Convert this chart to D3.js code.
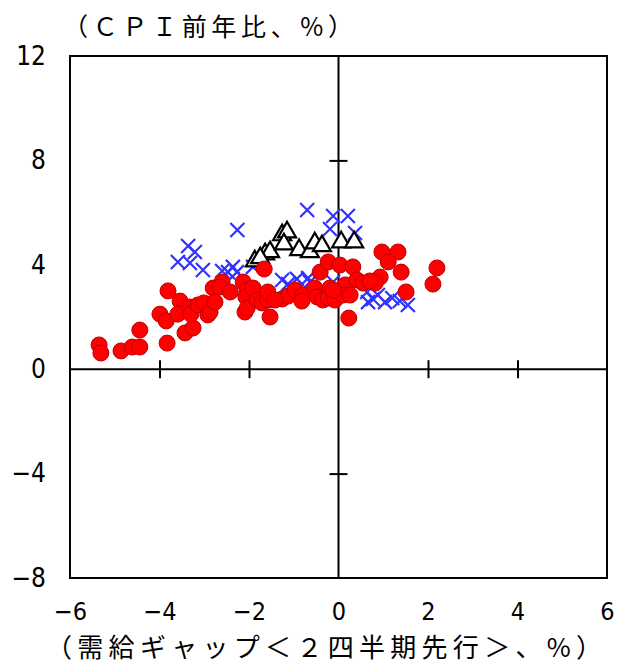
<!DOCTYPE html>
<html>
<head>
<meta charset="utf-8">
<script src="https://cdn.jsdelivr.net/npm/d3@7"></script>
<style>
  body { margin: 0; background: #fff; }
  svg { display: block; }
</style>
</head>
<body>
<svg id="canvas" width="629" height="663"></svg>
<script>
// data (x: output gap 2 quarters ahead, y: CPI y/y)
var red_x = [-5.35,-5.31,-4.86,-4.61,-4.44,-4.44,-3.83,-3.81,-3.99,-3.85,-3.54,-3.59,-3.43,-3.25,-3.32,-3.30,-3.14,-3.01,-2.92,-2.87,
             -2.80,-2.76,-2.60,-2.65,-2.42,-2.13,-2.04,-2.07,-2.09,-2.04,-1.91,-1.82,-1.71,-1.58,-1.58,-1.66,-1.53,-1.26,-1.13,-1.42,
             -0.97,-0.79,-0.82,-0.53,-0.48,-0.41,-0.35,-0.23,-0.23,-0.19,-0.08,0.03,0.15,0.10,0.26,0.32,0.41,0.55,0.23,-0.12,
             0.97,1.33,1.11,1.40,2.20,2.11,1.51,0.93,0.82,0.70];
var red_y = [0.93,0.62,0.70,0.85,0.85,1.50,1.00,3.00,2.11,1.85,2.61,2.11,1.39,1.58,2.38,2.11,2.46,2.54,2.08,2.19,
             3.11,2.57,3.34,3.15,2.96,3.34,3.03,2.77,2.19,2.34,3.11,2.65,2.54,2.65,2.96,3.84,2.00,2.69,2.80,2.65,
             3.03,2.84,2.61,3.11,2.77,3.72,2.65,4.11,2.73,3.11,2.65,3.99,3.23,2.84,2.84,3.92,3.42,3.30,1.96,3.03,
             4.49,4.49,4.11,3.72,3.88,3.26,2.96,3.53,3.30,3.38];

var blue_x = [-2.26,-3.36,-3.21,-3.59,-3.32,-3.03,-2.60,-2.36,-2.27,-2.47,-1.91,-1.26,-1.13,-0.93,-0.68,-0.64,-0.12,
              -0.70,-0.12,0.21,-0.19,0.37,0.64,0.66,0.77,0.88,1.04,1.20,1.37,1.55];
var blue_y = [5.33,4.72,4.49,4.11,4.07,3.80,3.76,3.92,3.72,3.72,3.92,3.42,3.26,3.46,3.49,3.34,3.34,
              6.10,5.87,5.87,5.37,5.22,2.96,2.57,2.69,2.84,2.57,2.73,2.61,2.46];

var tri_x = [-1.87,-1.64,-1.53,-1.75,-1.26,-1.15,-1.22,-0.88,-0.64,-0.53,-0.37,0.06,0.35];
var tri_y = [4.14,4.41,4.49,4.26,5.14,5.25,4.79,4.57,4.49,4.83,4.72,4.87,4.87];

var x_ticks = [-6,-4,-2,0,2,4,6];
var y_ticks = [-8,-4,0,4,8,12];
var y_title = "（ＣＰＩ前年比、%）";
var x_title = "（需給ギャップ＜２四半期先行＞、%）";

// ************************************************************************************** //
// layout

var plot_l = 70, plot_r = 607, plot_t = 56, plot_b = 578;
var svg = d3.select('#canvas');

var xScale = d3.scaleLinear().domain([-6, 6]).range([plot_l, plot_r]);
var yScale = d3.scaleLinear().domain([-8, 12]).range([plot_b, plot_t]);
var numFont = '"Liberation Sans Narrow", "DejaVu Sans Condensed", sans-serif';
var jpFont = '"Noto Sans CJK JP", sans-serif';

// tick labels
var yLab = svg.append('g').attr('transform', 'translate(' + plot_l + ',0)')
  .call(d3.axisLeft(yScale).tickValues(y_ticks).tickSize(0).tickPadding(24));
var xLab = svg.append('g').attr('transform', 'translate(0,' + plot_b + ')')
  .call(d3.axisBottom(xScale).tickValues(x_ticks).tickSize(0).tickPadding(24));
yLab.selectAll('text').attr('font-size', 26);
xLab.selectAll('text').attr('font-size', 25);
[yLab, xLab].forEach(function(g){
  g.select('.domain').remove();
  g.selectAll('text').attr('font-family', numFont).attr('fill', '#000');
});

// frame
svg.append('rect').attr('x', plot_l).attr('y', plot_t).attr('width', plot_r - plot_l).attr('height', plot_b - plot_t)
  .attr('fill', 'none').attr('stroke', '#000').attr('stroke-width', 2);

// zero lines
svg.append('line').attr('x1', plot_l).attr('x2', plot_r).attr('y1', yScale(0)).attr('y2', yScale(0))
  .attr('stroke', '#000').attr('stroke-width', 2);
svg.append('line').attr('x1', xScale(0)).attr('x2', xScale(0)).attr('y1', plot_t).attr('y2', plot_b)
  .attr('stroke', '#000').attr('stroke-width', 2);

// crossing ticks on the zero lines
var xt = svg.append('g').attr('transform', 'translate(0,' + (yScale(0) - 9) + ')')
  .call(d3.axisBottom(xScale).tickValues([-4,-2,2,4]).tickSize(18).tickFormat(''));
var yt = svg.append('g').attr('transform', 'translate(' + (xScale(0) + 9) + ',0)')
  .call(d3.axisLeft(yScale).tickValues([-4,4,8]).tickSize(18).tickFormat(''));
[xt, yt].forEach(function(g){
  g.select('.domain').remove();
  g.selectAll('line').attr('stroke', '#000').attr('stroke-width', 2);
});

// ************************************************************************************** //
// marks

var plot = svg.append('g');

// X markers
var xs = 7;
blue_x.forEach(function(v, i){
  var cx = xScale(v), cy = yScale(blue_y[i]);
  plot.append('path')
    .attr('d', 'M' + (cx - xs) + ',' + (cy - xs) + 'L' + (cx + xs) + ',' + (cy + xs) +
               'M' + (cx - xs) + ',' + (cy + xs) + 'L' + (cx + xs) + ',' + (cy - xs))
    .attr('stroke', '#3333ff').attr('stroke-width', 2.2).attr('fill', 'none');
});

// triangles
var tri = d3.symbol().type(d3.symbolTriangle).size(140);
tri_x.forEach(function(v, i){
  plot.append('path').attr('d', tri)
    .attr('transform', 'translate(' + xScale(v) + ',' + yScale(tri_y[i]) + ')')
    .attr('fill', '#fff').attr('stroke', '#000').attr('stroke-width', 2.2);
});

// circles
red_x.forEach(function(v, i){
  plot.append('circle').attr('cx', xScale(v)).attr('cy', yScale(red_y[i])).attr('r', 8)
    .attr('fill', '#ff0000').attr('stroke', '#c00000').attr('stroke-width', 1);
});

// titles
svg.append('text').attr('x', 63).attr('y', 36).text(y_title)
  .attr('font-family', jpFont).attr('font-size', 25).attr('fill', '#000')
  .attr('textLength', 290).attr('lengthAdjust', 'spacing');
svg.append('text').attr('x', 46).attr('y', 657).text(x_title)
  .attr('font-family', jpFont).attr('font-size', 26).attr('fill', '#000')
  .attr('textLength', 556).attr('lengthAdjust', 'spacing');
</script>
</body>
</html>
